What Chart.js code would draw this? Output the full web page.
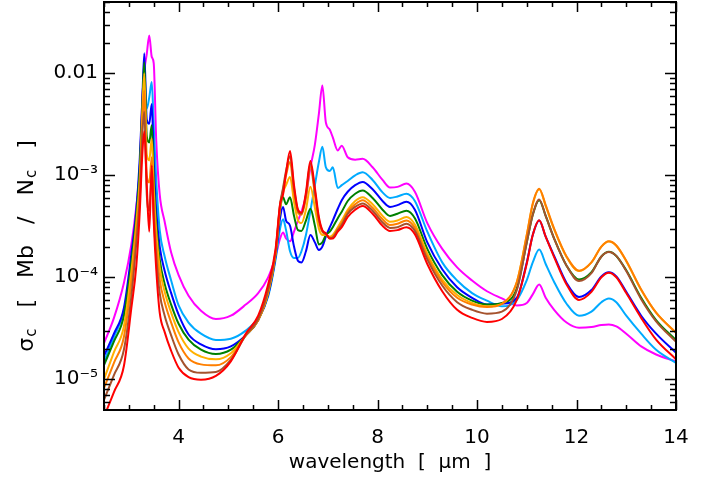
<!DOCTYPE html>
<html>
<head>
<meta charset="utf-8">
<script src="https://cdn.jsdelivr.net/npm/chart.js@4.4.1/dist/chart.umd.min.js"></script>
<style>
  body { margin: 0; background: #fff; }
</style>
</head>
<body>
<canvas id="stage" width="715" height="481"></canvas>
<script>
// wavelength grid (micron)
const wavelength = [
  2.5, 2.7, 2.9, 3.05, 3.15, 3.22, 3.27, 3.31, 3.36, 3.41, 3.46, 3.5, 3.55, 3.62, 3.72, 3.85, 4.0, 4.2, 4.45, 4.75, 5.05, 5.35, 5.6, 5.8,
  5.95, 6.04, 6.1, 6.16, 6.24, 6.32, 6.4, 6.47, 6.56, 6.65, 6.74, 6.82, 6.89, 6.96, 7.04, 7.1, 7.2, 7.28, 7.4,
  7.55, 7.7, 7.9, 8.1, 8.25, 8.4, 8.58, 8.75, 9.0, 9.3, 9.6, 9.9, 10.2, 10.5, 10.8,
  11.0, 11.12, 11.25, 11.38, 11.55, 11.8, 12.05, 12.3, 12.5, 12.65, 12.8, 13.0, 13.3, 13.6, 14.0
];

// cross sections, one array per curve
const magenta = [
  2.26e-5, 4.0e-5, 8.8e-5, 2.1e-4, 5.0e-4, 1.2e-3, 5.5e-3, 1.05e-2, 1.55e-2, 2.35e-2, 1.45e-2, 1.25e-2, 2.2e-3, 6.5e-4, 3.5e-4, 1.75e-4, 1.05e-4, 6.6e-5, 4.7e-5, 3.9e-5, 4.2e-5, 5.4e-5, 7.0e-5, 1.0e-4,
  1.6e-4, 2.4e-4, 2.75e-4, 2.4e-4, 2.25e-4, 2.8e-4, 3.6e-4, 4.4e-4, 6.3e-4, 1.2e-3, 2.0e-3, 4.0e-3, 7.6e-3, 3.3e-3, 2.8e-3, 2.35e-3, 1.75e-3, 1.95e-3, 1.5e-3,
  1.42e-3, 1.45e-3, 1.2e-3, 9.0e-4, 7.6e-4, 7.7e-4, 8.3e-4, 6.9e-4, 3.4e-4, 1.9e-4, 1.25e-4, 9.3e-5, 7.3e-5, 6.2e-5, 5.3e-5,
  5.6e-5, 6.8e-5, 8.5e-5, 6.3e-5, 4.8e-5, 3.6e-5, 3.2e-5, 3.25e-5, 3.4e-5, 3.45e-5, 3.3e-5, 2.8e-5, 2.1e-5, 1.75e-5, 1.5e-5
];
const lightBlue = [
  1.5e-5, 2.6e-5, 4.7e-5, 1.4e-4, 4.0e-4, 1.2e-3, 3.5e-3, 6.0e-3, 4.5e-3, 5.8e-3, 8.2e-3, 3.0e-3, 9.0e-4, 2.9e-4, 1.6e-4, 9.3e-5, 5.3e-5, 3.6e-5, 2.8e-5, 2.43e-5, 2.5e-5, 3.0e-5, 4.0e-5, 6.5e-5,
  1.5e-4, 3.0e-4, 3.7e-4, 2.9e-4, 1.8e-4, 1.55e-4, 1.55e-4, 1.8e-4, 2.6e-4, 4.5e-4, 8.0e-4, 1.35e-3, 1.9e-3, 1.2e-3, 1.1e-3, 1.2e-3, 7.5e-4, 8.0e-4, 8.8e-4,
  1.0e-3, 1.07e-3, 9.0e-4, 6.8e-4, 6.0e-4, 6.2e-4, 6.6e-4, 5.6e-4, 2.8e-4, 1.4e-4, 9.3e-5, 7.0e-5, 5.9e-5, 5.2e-5, 6.0e-5,
  9.4e-5, 1.4e-4, 1.87e-4, 1.35e-4, 9.0e-5, 5.5e-5, 4.2e-5, 4.6e-5, 5.7e-5, 6.2e-5, 5.7e-5, 4.2e-5, 2.8e-5, 1.95e-5, 1.45e-5
];
const blue = [
  1.7e-5, 2.8e-5, 5.0e-5, 1.7e-4, 4.6e-4, 1.5e-3, 5.5e-3, 1.57e-2, 3.5e-3, 3.2e-3, 5.0e-3, 1.4e-3, 4.5e-4, 2.0e-4, 1.15e-4, 7.0e-5, 4.3e-5, 2.75e-5, 2.2e-5, 1.97e-5, 2.1e-5, 2.7e-5, 3.8e-5, 6.7e-5,
  1.6e-4, 3.8e-4, 4.9e-4, 3.6e-4, 3.2e-4, 2.0e-4, 1.45e-4, 1.4e-4, 1.8e-4, 2.6e-4, 2.2e-4, 1.85e-4, 2.0e-4, 2.5e-4, 3.1e-4, 3.6e-4, 4.7e-4, 5.7e-4, 6.9e-4,
  8.0e-4, 8.6e-4, 7.3e-4, 5.6e-4, 4.9e-4, 5.1e-4, 5.5e-4, 4.6e-4, 2.2e-4, 1.2e-4, 8.0e-5, 6.3e-5, 5.4e-5, 5.5e-5, 6.3e-5,
  1.4e-4, 2.6e-4, 3.6e-4, 2.5e-4, 1.62e-4, 8.8e-5, 6.4e-5, 7.5e-5, 1.02e-4, 1.12e-4, 1.02e-4, 7.2e-5, 4.2e-5, 2.8e-5, 1.82e-5
];
const green = [
  1.38e-5, 2.35e-5, 4.2e-5, 1.4e-4, 4.0e-4, 1.2e-3, 4.8e-3, 1.28e-2, 2.4e-3, 2.1e-3, 3.1e-3, 9.5e-4, 3.4e-4, 1.5e-4, 8.6e-5, 5.4e-5, 3.5e-5, 2.45e-5, 1.95e-5, 1.77e-5, 1.95e-5, 2.7e-5, 3.8e-5, 7.0e-5,
  1.7e-4, 4.6e-4, 6.1e-4, 5.2e-4, 6.1e-4, 4.0e-4, 2.9e-4, 2.85e-4, 3.6e-4, 4.7e-4, 3.2e-4, 2.1e-4, 2.2e-4, 2.6e-4, 2.8e-4, 3.1e-4, 3.8e-4, 4.4e-4, 5.6e-4,
  6.6e-4, 7.1e-4, 6.0e-4, 4.6e-4, 4.0e-4, 4.2e-4, 4.5e-4, 3.8e-4, 1.9e-4, 1.05e-4, 7.2e-5, 5.9e-5, 5.4e-5, 5.6e-5, 7.8e-5,
  2.2e-4, 4.1e-4, 5.7e-4, 4.0e-4, 2.4e-4, 1.3e-4, 9.5e-5, 1.12e-4, 1.6e-4, 1.78e-4, 1.62e-4, 1.17e-4, 6.3e-5, 3.8e-5, 2.42e-5
];
const gold = [
  1.0e-5, 1.85e-5, 3.3e-5, 1.15e-4, 3.4e-4, 9.5e-4, 4.0e-3, 1.0e-2, 1.6e-3, 1.4e-3, 2.3e-3, 7.5e-4, 2.8e-4, 1.25e-4, 7.2e-5, 4.5e-5, 2.9e-5, 2.0e-5, 1.67e-5, 1.57e-5, 1.8e-5, 2.7e-5, 3.8e-5, 7.0e-5,
  1.7e-4, 4.8e-4, 6.8e-4, 8.0e-4, 9.6e-4, 5.5e-4, 3.6e-4, 3.4e-4, 4.6e-4, 7.7e-4, 4.8e-4, 3.0e-4, 2.6e-4, 2.6e-4, 2.5e-4, 2.6e-4, 3.1e-4, 3.6e-4, 4.6e-4,
  5.6e-4, 6.1e-4, 5.2e-4, 4.0e-4, 3.5e-4, 3.6e-4, 3.9e-4, 3.3e-4, 1.7e-4, 9.5e-5, 6.7e-5, 5.6e-5, 5.2e-5, 5.5e-5, 9.0e-5,
  2.6e-4, 5.2e-4, 7.3e-4, 5.0e-4, 2.95e-4, 1.58e-4, 1.15e-4, 1.4e-4, 2.0e-4, 2.24e-4, 2.04e-4, 1.44e-4, 7.5e-5, 4.5e-5, 2.85e-5
];
const orange = [
  8.2e-6, 1.45e-5, 2.6e-5, 9.0e-5, 2.8e-4, 7.5e-4, 3.2e-3, 6.8e-3, 1.0e-3, 8.5e-4, 1.5e-3, 5.5e-4, 2.1e-4, 9.5e-5, 5.7e-5, 3.6e-5, 2.3e-5, 1.6e-5, 1.4e-5, 1.37e-5, 1.65e-5, 2.7e-5, 3.8e-5, 7.2e-5,
  1.75e-4, 5.0e-4, 7.2e-4, 1.0e-3, 1.35e-3, 6.8e-4, 4.3e-4, 4.1e-4, 6.0e-4, 1.2e-3, 6.5e-4, 3.5e-4, 2.8e-4, 2.65e-4, 2.45e-4, 2.5e-4, 3.0e-4, 3.4e-4, 4.4e-4,
  5.2e-4, 5.7e-4, 4.8e-4, 3.7e-4, 3.25e-4, 3.35e-4, 3.6e-4, 3.05e-4, 1.6e-4, 9.0e-5, 6.3e-5, 5.4e-5, 5.1e-5, 5.5e-5, 9.0e-5,
  2.6e-4, 5.3e-4, 7.4e-4, 5.1e-4, 3.0e-4, 1.6e-4, 1.16e-4, 1.4e-4, 2.0e-4, 2.25e-4, 2.05e-4, 1.45e-4, 7.6e-5, 4.5e-5, 2.86e-5
];
const brown = [
  6.3e-6, 1.1e-5, 1.95e-5, 6.5e-5, 2.2e-4, 6.0e-4, 2.5e-3, 4.2e-3, 6.5e-4, 4.5e-4, 1.1e-3, 4.0e-4, 1.6e-4, 7.0e-5, 4.2e-5, 2.7e-5, 1.75e-5, 1.25e-5, 1.16e-5, 1.18e-5, 1.55e-5, 2.7e-5, 3.9e-5, 7.5e-5,
  1.8e-4, 5.2e-4, 7.5e-4, 1.1e-3, 1.55e-3, 7.5e-4, 4.5e-4, 4.2e-4, 6.4e-4, 1.3e-3, 7.0e-4, 3.7e-4, 2.85e-4, 2.65e-4, 2.4e-4, 2.45e-4, 2.9e-4, 3.25e-4, 4.2e-4,
  4.9e-4, 5.3e-4, 4.5e-4, 3.45e-4, 3.05e-4, 3.1e-4, 3.35e-4, 2.85e-4, 1.5e-4, 8.3e-5, 5.7e-5, 4.8e-5, 4.4e-5, 4.6e-5, 7.5e-5,
  2.2e-4, 4.1e-4, 5.8e-4, 4.0e-4, 2.4e-4, 1.3e-4, 9.2e-5, 1.1e-4, 1.6e-4, 1.77e-4, 1.62e-4, 1.15e-4, 6.1e-5, 3.7e-5, 2.33e-5
];
const red = [
  4.3e-6, 7.5e-6, 1.35e-5, 5.0e-5, 1.3e-4, 4.5e-4, 1.6e-3, 2.7e-3, 8.0e-4, 2.8e-4, 1.25e-3, 3.5e-4, 1.2e-4, 4.5e-5, 2.9e-5, 1.9e-5, 1.3e-5, 1.05e-5, 9.9e-6, 1.08e-5, 1.5e-5, 2.8e-5, 4.2e-5, 8.5e-5,
  1.9e-4, 5.2e-4, 6.5e-4, 1.05e-3, 1.73e-3, 8.0e-4, 4.6e-4, 4.3e-4, 6.8e-4, 1.38e-3, 7.5e-4, 3.9e-4, 2.9e-4, 2.7e-4, 2.4e-4, 2.4e-4, 2.8e-4, 3.1e-4, 3.9e-4,
  4.6e-4, 5.0e-4, 4.2e-4, 3.2e-4, 2.85e-4, 2.9e-4, 3.1e-4, 2.65e-4, 1.35e-4, 7.3e-5, 4.8e-5, 4.0e-5, 3.65e-5, 3.9e-5, 6.0e-5,
  1.36e-4, 2.6e-4, 3.62e-4, 2.5e-4, 1.58e-4, 8.5e-5, 6.0e-5, 7.2e-5, 1.0e-4, 1.11e-4, 1.0e-4, 7.0e-5, 4.0e-5, 2.45e-5, 1.57e-5
];

const xTicks = [4, 6, 8, 10, 12, 14];
const yTicks = [1e-5, 1e-4, 1e-3, 1e-2];
const yTickLabels = ['10⁻⁵', '10⁻⁴', '10⁻³', '0.01'];

const FONT = 'DejaVu Sans';

function pts(arr) {
  return arr.map((v, i) => ({ x: wavelength[i], y: v }));
}

// first one is drawn on top
const curves = [
  { data: red, color: '#ff0000' },
  { data: brown, color: '#a5522d' },
  { data: orange, color: '#ff7f00' },
  { data: gold, color: '#ffb000' },
  { data: green, color: '#008000' },
  { data: blue, color: '#0000ff' },
  { data: lightBlue, color: '#00aaff' },
  { data: magenta, color: '#ff00ff' }
];

// IDL style box with inward ticks on all four sides + y title with subscripts
const frame = {
  id: 'frame',
  afterDatasetsDraw(chart) {
    const { ctx, chartArea: a, scales: { x, y } } = chart;
    ctx.save();
    ctx.strokeStyle = '#000';
    ctx.lineWidth = 2;
    ctx.strokeRect(a.left, a.top, a.right - a.left, a.bottom - a.top);

    ctx.lineWidth = 1.5;
    ctx.beginPath();
    for (let v = 2.5; v <= 14.001; v += 0.5) {
      const px = Math.round(x.getPixelForValue(v)) + 0.5;
      const len = xTicks.includes(v) ? 10 : 5;
      ctx.moveTo(px, a.bottom); ctx.lineTo(px, a.bottom - len);
      ctx.moveTo(px, a.top); ctx.lineTo(px, a.top + len);
    }
    for (let d = -6; d <= -2; d++) {
      for (let m = 1; m <= 9; m++) {
        const v = m * Math.pow(10, d);
        if (v < y.min || v > y.max) continue;
        const py = Math.round(y.getPixelForValue(v)) + 0.5;
        const len = m === 1 ? 11 : 6;
        ctx.moveTo(a.left, py); ctx.lineTo(a.left + len, py);
        ctx.moveTo(a.right, py); ctx.lineTo(a.right - len, py);
      }
    }
    ctx.stroke();
    ctx.restore();
  },
  afterDraw(chart) {
    const ctx = chart.ctx;
    const big = '22px "' + FONT + '"';
    const small = '15px "' + FONT + '"';
    const gap = 21;
    const parts = [
      { t: 'σ', f: big, dy: 0, after: 1 },
      { t: 'c', f: small, dy: 5, after: gap },
      { t: '[', f: big, dy: 0, after: gap },
      { t: 'Mb', f: big, dy: 0, after: gap },
      { t: '/', f: big, dy: 0, after: gap },
      { t: 'N', f: big, dy: 0, after: 1 },
      { t: 'c', f: small, dy: 5, after: gap },
      { t: ']', f: big, dy: 0, after: 0 }
    ];
    ctx.save();
    let total = 0;
    parts.forEach(p => {
      ctx.font = p.f;
      p.w = ctx.measureText(p.t).width;
      total += p.w + p.after;
    });
    ctx.translate(27, 246);
    ctx.rotate(-Math.PI / 2);
    ctx.fillStyle = '#000';
    ctx.textBaseline = 'middle';
    let cx = -total / 2;
    parts.forEach(p => {
      ctx.font = p.f;
      ctx.fillText(p.t, cx, p.dy);
      cx += p.w + p.after;
    });
    ctx.restore();
  }
};

new Chart(document.getElementById('stage'), {
  type: 'line',
  data: {
    datasets: curves.map(c => ({
      data: pts(c.data),
      borderColor: c.color,
      backgroundColor: c.color,
      borderWidth: 2,
      pointRadius: 0,
      fill: false,
      cubicInterpolationMode: 'monotone'
    }))
  },
  options: {
    responsive: false,
    animation: false,
    devicePixelRatio: 1,
    layout: { padding: { top: 2, right: 39, left: 0, bottom: 6 } },
    plugins: { legend: { display: false }, tooltip: { enabled: false } },
    scales: {
      x: {
        type: 'linear',
        min: 2.5,
        max: 14,
        afterBuildTicks: s => { s.ticks = xTicks.map(v => ({ value: v })); },
        afterFit: s => { s.height = 65; s.paddingLeft = 0; s.paddingRight = 0; },
        grid: { display: false, drawTicks: false },
        border: { display: false },
        ticks: { color: '#000', font: { family: FONT, size: 20 }, padding: 16, maxRotation: 0, autoSkip: false },
        title: { display: true, text: 'wavelength  [  μm  ]', color: '#000', font: { family: FONT, size: 20 }, padding: 0 }
      },
      y: {
        type: 'logarithmic',
        min: 5e-6,
        max: 0.05,
        afterBuildTicks: s => { s.ticks = yTicks.map(v => ({ value: v })); },
        afterFit: s => { s.width = 104; s.paddingTop = 0; s.paddingBottom = 0; },
        grid: { display: false, drawTicks: false },
        border: { display: false },
        ticks: {
          color: '#000',
          font: { family: FONT, size: 20 },
          padding: 6,
          autoSkip: false,
          callback: v => yTickLabels[yTicks.indexOf(v)]
        }
      }
    }
  },
  plugins: [frame]
});
</script>
</body>
</html>
